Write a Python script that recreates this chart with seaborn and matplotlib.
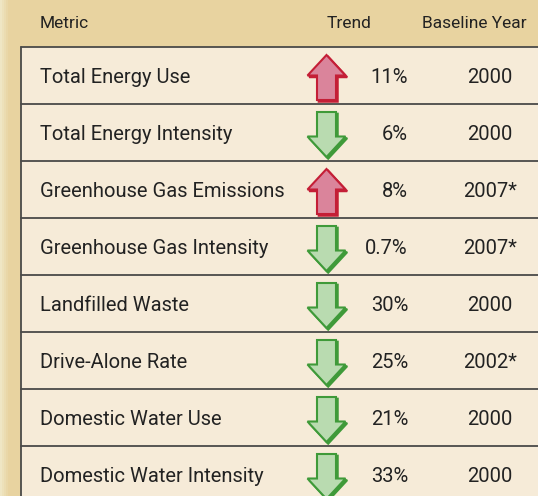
import numpy as np
import pandas as pd
import seaborn as sns
import matplotlib.pyplot as plt
from matplotlib.patches import Polygon, Rectangle

# Table data
metrics = ['Total Energy Use', 'Total Energy Intensity', 'Greenhouse Gas Emissions',
           'Greenhouse Gas Intensity', 'Landfilled Waste', 'Drive-Alone Rate',
           'Domestic Water Use', 'Domestic Water Intensity']
trend_dir = ['up', 'down', 'up', 'down', 'down', 'down', 'down', 'down']
trend_pct = ['11%', '6%', '8%', '0.7%', '30%', '25%', '21%', '33%']
baseline = ['2000', '2000', '2007*', '2007*', '2000', '2002*', '2000', '2000']
headers = ['Metric', 'Trend', 'Baseline Year']

df = pd.DataFrame({'metric': metrics, 'dir': trend_dir, 'pct': trend_pct, 'year': baseline})

sns.set_theme(style='white')
plt.rcParams['font.family'] = ['Roboto', 'DejaVu Sans']

W, H = 538, 496
fig = plt.figure(figsize=(W / 100, H / 100), dpi=100)
fig.patch.set_facecolor('#E8D3A0')
ax = fig.add_axes([0, 0, 1, 1])
ax.set_xlim(0, W)
ax.set_ylim(H, 0)
ax.axis('off')

# lighter strip on the left edge
for i, c in enumerate(['#EFE6C4', '#EDE1BA', '#EBDCB1', '#E9D7A8']):
    ax.add_patch(Rectangle((i * 2, 0), 2, H, color=c, lw=0))

top, row_h, left = 47, 57, 21
line_col = '#4A4A48'
txt_col = '#222222'

# table body
ax.add_patch(Rectangle((left, top), W - left + 5, row_h * len(df) + 10,
                       facecolor='#F6EBD8', edgecolor='none'))
ax.plot([left, left], [top, H + 5], color=line_col, lw=1.3)

# header
ax.text(40, 23, headers[0], fontsize=12.5, va='center', ha='left', color=txt_col)
ax.text(349, 23, headers[1], fontsize=12.5, va='center', ha='center', color=txt_col)
ax.text(527, 23, headers[2], fontsize=12.5, va='center', ha='right', color=txt_col)

up_dark, up_light = '#C41E36', '#DA849B'
dn_dark, dn_light = '#3F9A39', '#B9DBB0'


def arrow_pts(cx, cy, direction):
    # shape drawn pointing up, flipped for down
    pts = np.array([[0, -22.5], [19, -2], [9.5, -2], [9.5, 22.5],
                    [-9.5, 22.5], [-9.5, -2], [-19, -2]])
    if direction == 'down':
        pts[:, 1] = -pts[:, 1]
    return pts + [cx, cy]


for i, r in df.iterrows():
    y0 = top + row_h * i
    cy = y0 + row_h / 2
    ax.plot([left, W + 5], [y0, y0], color=line_col, lw=1.3)
    ax.text(40, cy + 2, r['metric'], fontsize=14.5, va='center', ha='left', color=txt_col)
    ax.text(408, cy + 2, r['pct'], fontsize=14.5, va='center', ha='right', color=txt_col)
    ax.text(490, cy + 2, r['year'], fontsize=14.5, va='center', ha='center', color=txt_col)

    dark, light = (up_dark, up_light) if r['dir'] == 'up' else (dn_dark, dn_light)
    pts = arrow_pts(327, cy + 2.5, r['dir'])
    ax.add_patch(Polygon(pts + [1.2, 1.2], closed=True, facecolor=dark, edgecolor=dark, lw=1.5))
    ax.add_patch(Polygon(pts - [0.5, 0.5], closed=True, facecolor=light, edgecolor=dark, lw=1.5))

fig.savefig('out.png', dpi=100, facecolor=fig.get_facecolor())
